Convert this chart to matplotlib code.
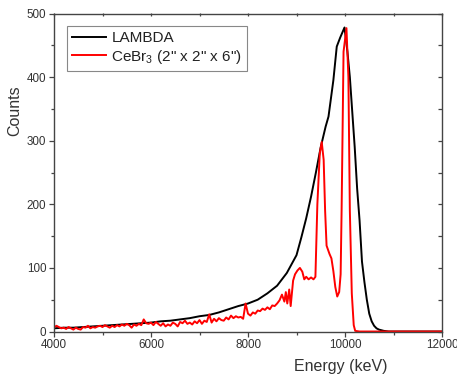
import matplotlib
matplotlib.use("Agg")
import matplotlib.pyplot as plt

plt.rcParams['font.family'] = ['Liberation Sans', 'DejaVu Sans']
plt.rcParams['mathtext.fontset'] = 'custom'
plt.rcParams['mathtext.rm'] = 'Liberation Sans'
plt.rcParams['mathtext.it'] = 'Liberation Sans'
plt.rcParams['mathtext.default'] = 'regular'

# LAMBDA spectrum (keV, counts)
lambda_energy = [4000, 4200, 4400, 4600, 4800, 5000, 5200, 5400, 5600, 5800,
                 6000, 6200, 6400, 6600, 6800, 7000, 7200, 7400, 7600, 7800,
                 8000, 8200, 8400, 8600, 8800, 9000, 9100, 9200, 9300, 9400,
                 9500, 9600, 9660, 9760, 9830, 9900, 9990, 10050, 10100, 10150,
                 10200, 10250, 10300, 10350, 10400, 10450, 10500, 10550, 10600,
                 10650, 10700, 10800, 10900, 12000]
lambda_counts = [5, 6, 6, 7, 8, 9, 10, 11, 12, 13,
                 14, 16, 17, 19, 21, 24, 26, 30, 35, 40,
                 44, 50, 60, 72, 92, 120, 148, 178, 212, 250,
                 290, 322, 338, 395, 448, 462, 478, 440, 400, 345,
                 290, 225, 175, 110, 78, 50, 28, 16, 9,
                 5, 3, 1, 0, 0]

# CeBr3 spectrum (keV, counts)
cebr_energy = [4000, 4050, 4100, 4150, 4200, 4250, 4300, 4350, 4400, 4450,
               4500, 4550, 4600, 4650, 4700, 4750, 4800, 4850, 4900, 4950,
               5000, 5050, 5100, 5150, 5200, 5250, 5300, 5350, 5400, 5450,
               5500, 5550, 5600, 5650, 5700, 5750, 5800, 5850, 5900, 5950,
               6000, 6050, 6100, 6150, 6200, 6250, 6300, 6350, 6400, 6450,
               6500, 6550, 6600, 6650, 6700, 6750, 6800, 6850, 6900, 6950,
               7000, 7050, 7100, 7150, 7200, 7250, 7300, 7350, 7400, 7450,
               7500, 7550, 7600, 7650, 7700, 7750, 7800, 7850, 7900, 7950,
               8000, 8050, 8100, 8150, 8200, 8250, 8300, 8350, 8400, 8450,
               8500, 8550, 8600, 8650, 8700, 8750, 8780, 8810, 8850, 8880,
               8930, 8970, 9020, 9070, 9120, 9160, 9200, 9250, 9300, 9350,
               9390, 9430, 9480, 9520, 9560, 9590, 9620, 9680, 9720, 9760,
               9800, 9840, 9880, 9910, 9930, 9970, 10030, 10070, 10100, 10140,
               10180, 10210, 10300, 12000]
cebr_counts = [6, 9, 7, 5, 6, 4, 7, 5, 3, 6,
               4, 3, 7, 6, 9, 5, 7, 6, 8, 9,
               7, 10, 8, 6, 9, 7, 10, 8, 11, 9,
               12, 10, 6, 11, 9, 12, 10, 19, 13, 12,
               14, 10, 15, 12, 9, 13, 8, 11, 9, 14,
               12, 8, 15, 13, 17, 12, 14, 11, 16, 13,
               18, 12, 17, 15, 27, 14, 20, 16, 21, 18,
               17, 22, 19, 25, 21, 24, 22, 23, 20, 44,
               28, 25, 30, 28, 33, 32, 36, 34, 38, 35,
               41, 40, 44, 49, 58, 47, 62, 44, 66, 40,
               80, 90, 96, 100, 94, 82, 86, 82, 85, 82,
               86, 200, 280, 298, 270, 190, 135, 122, 115, 95,
               70, 55, 62, 90, 190, 440, 477, 400, 190, 60,
               10, 1, 0, 0]

x_ticks = [4000, 6000, 8000, 10000, 12000]
y_ticks = [0, 100, 200, 300, 400, 500]

fig = plt.figure(figsize=(4.57, 3.77), dpi=100)
ax = fig.add_axes([54/457, 1-331.5/377, 388/457, 318/377])

ax.plot(lambda_energy, lambda_counts, color='black', lw=1.4, label='LAMBDA')
ax.plot(cebr_energy, cebr_counts, color='#ff0000', lw=1.4,
        label='CeBr$_3$ (2" x 2" x 6")')

ax.set_xlim(4000, 12000)
ax.set_ylim(0, 500)
ax.set_xticks(x_ticks)
ax.set_xticklabels([str(t) for t in x_ticks])
ax.set_xticks(range(5000, 12000, 2000), minor=True)
ax.set_yticks(y_ticks)
ax.set_yticklabels([str(t) for t in y_ticks])
ax.set_yticks(range(50, 500, 100), minor=True)

tc = '#333333'
for s in ax.spines.values():
    s.set_color('#444444')
    s.set_linewidth(1.0)
ax.tick_params(which='major', direction='out', length=3.5, width=0.9,
               color='#444444', labelsize=8.4, labelcolor=tc, pad=2)
ax.tick_params(which='minor', direction='out', length=2.2, width=0.9,
               color='#444444')

top = ax.secondary_xaxis('top')
top.set_xticks(range(4000, 12001, 1000))
top.tick_params(direction='in', length=2.5, width=0.9, color='#444444',
                labeltop=False)
top.spines['top'].set_visible(False)
right = ax.secondary_yaxis('right')
right.set_yticks(range(0, 501, 50))
right.tick_params(direction='in', length=3, width=0.9, color='#444444',
                  labelright=False)
right.spines['right'].set_visible(False)

ax.set_xlabel('Energy (keV)', fontsize=11.5, color=tc)
ax.set_ylabel('Counts', fontsize=11.5, color=tc)
ax.xaxis.set_label_coords(0.74, -0.085)
ax.yaxis.set_label_coords(-0.082, 0.693)

leg = ax.legend(loc='upper left', bbox_to_anchor=(13/388, (331.5-26)/318),
                borderaxespad=0, fontsize=11, frameon=True, fancybox=False,
                edgecolor='#888888', framealpha=1, handlelength=2.2,
                handletextpad=0.35, labelspacing=0.15, borderpad=0.35)
leg.get_frame().set_linewidth(0.8)
for t in leg.get_texts():
    t.set_color('#222222')

fig.savefig('out.png', dpi=100)
